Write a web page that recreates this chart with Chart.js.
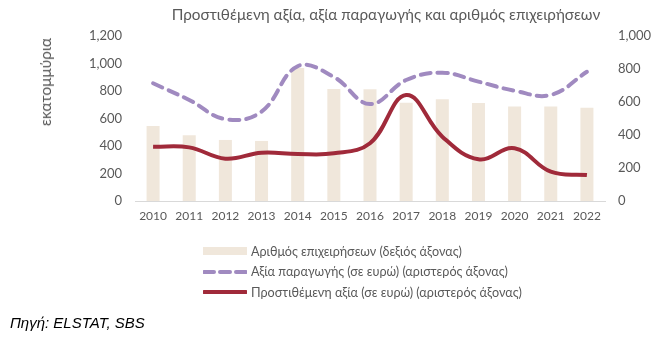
<!DOCTYPE html>
<html>
<head>
<meta charset="utf-8">
<script src="https://cdn.jsdelivr.net/npm/chart.js@4"></script>
<style>
  body { margin: 0; background: #fff; }
  #wrap { position: relative; width: 662px; height: 338px; }
  #title { position: absolute; left: 0; width: 772px; top: 5px; text-align: center;
           font: 15.3px Lato, sans-serif; color: #595959; white-space: nowrap; }
  #ytitle { position: absolute; left: 45px; top: 82px; transform: translate(-50%, -50%) rotate(-90deg);
            font: 15.5px Lato, sans-serif; color: #595959; white-space: nowrap; }
  #legend { position: absolute; left: 203px; top: 241px; font: 12.6px Lato, sans-serif; color: #595959; }
  .row { display: flex; align-items: center; height: 20.5px; white-space: nowrap; }
  .row svg { margin-right: 4px; }
  #source { position: absolute; left: 10px; top: 314px; font: italic 15px "Liberation Sans", Arial, sans-serif; color: #000; }
</style>
</head>
<body>
<div id="wrap">
  <canvas id="chart" width="662" height="338"></canvas>
  <div id="title">Προστιθέμενη αξία, αξία παραγωγής και αριθμός επιχειρήσεων</div>
  <div id="ytitle">εκατομμύρια</div>
  <div id="legend">
    <div class="row"><svg width="44" height="10"><line x1="0" y1="5" x2="44" y2="5" stroke="#F0E7DB" stroke-width="8"/></svg>Αριθμός επιχειρήσεων (δεξιός άξονας)</div>
    <div class="row"><svg width="44" height="10"><line x1="1" y1="5" x2="44" y2="5" stroke="#A08AC0" stroke-width="4" stroke-dasharray="10,6" stroke-linecap="round"/></svg>Αξία παραγωγής (σε ευρώ) (αριστερός άξονας)</div>
    <div class="row"><svg width="44" height="10"><line x1="1" y1="5" x2="43" y2="5" stroke="#A02A3A" stroke-width="4" stroke-linecap="round"/></svg>Προστιθέμενη αξία (σε ευρώ) (αριστερός άξονας)</div>
  </div>
  <div id="source">Πηγή: ELSTAT, SBS</div>
</div>
<script>
const years = ['2010', '2011', '2012', '2013', '2014', '2015', '2016', '2017', '2018', '2019', '2020', '2021', '2022'];
// number of enterprises (right axis)
const enterprises = [455, 398, 370, 364, 806, 679, 677, 596, 616, 594, 572, 572, 565];
// production value, million euro (left axis)
const productionValue = [856, 735, 595, 650, 980, 902, 705, 880, 933, 868, 802, 771, 940];
// value added, million euro (left axis)
const valueAdded = [395, 390, 308, 351, 342, 347, 420, 771, 468, 303, 383, 213, 189];

const textColor = '#595959';
const fmt = v => v.toLocaleString('en-US');

new Chart(document.getElementById('chart'), {
    data: {
        labels: years,
        datasets: [
            {
                type: 'line',
                label: 'Προστιθέμενη αξία (σε ευρώ) (αριστερός άξονας)',
                data: valueAdded,
                yAxisID: 'y',
                borderColor: '#A02A3A',
                borderWidth: 4,
                pointRadius: 0,
                tension: 0.4,
                order: 1
            },
            {
                type: 'line',
                label: 'Αξία παραγωγής (σε ευρώ) (αριστερός άξονας)',
                data: productionValue,
                yAxisID: 'y',
                borderColor: '#A08AC0',
                borderWidth: 4,
                borderDash: [10, 7],
                borderCapStyle: 'round',
                pointRadius: 0,
                tension: 0.4,
                order: 2
            },
            {
                type: 'bar',
                label: 'Αριθμός επιχειρήσεων (δεξιός άξονας)',
                data: enterprises,
                yAxisID: 'y1',
                backgroundColor: '#F0E7DB',
                barPercentage: 0.36,
                categoryPercentage: 1,
                order: 3
            }
        ]
    },
    options: {
        responsive: false,
        animation: false,
        layout: { padding: { top: 36, bottom: 113, left: 0, right: 0 } },
        plugins: { legend: { display: false }, tooltip: { enabled: false } },
        scales: {
            x: {
                grid: { display: false, drawTicks: false },
                border: { color: '#D9D9D9', width: 1 },
                ticks: { color: textColor, font: { family: 'Lato', size: 12 }, padding: 8, maxRotation: 0 },
                afterFit: s => { s.height = 24; }
            },
            y: {
                position: 'left',
                min: 0, max: 1200,
                grid: { display: false, drawTicks: false },
                border: { display: false },
                ticks: { stepSize: 200, color: textColor, font: { family: 'Lato', size: 13 }, padding: 13, callback: fmt },
                afterFit: s => { s.width = 135; }
            },
            y1: {
                position: 'right',
                min: 0, max: 1000,
                grid: { display: false, drawTicks: false },
                border: { display: false },
                ticks: { stepSize: 200, color: textColor, font: { family: 'Lato', size: 13 }, padding: 13, callback: fmt },
                afterFit: s => { s.width = 57; }
            }
        }
    }
});
</script>
</body>
</html>
